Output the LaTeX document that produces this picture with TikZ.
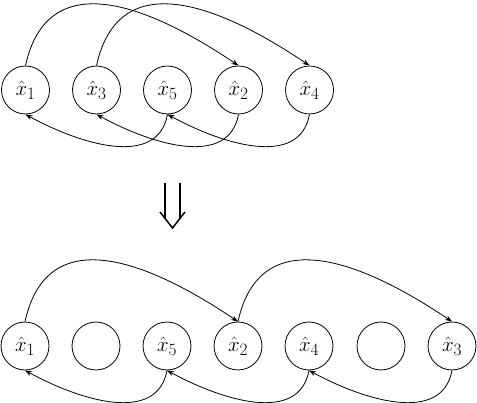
\documentclass[tikz,border=0pt]{standalone}
\usepackage{amsmath}
\usepackage{tikz}
\usetikzlibrary{arrows.meta}
\DeclareMathSizes{22}{22}{16}{12}
\tikzset{state/.style={draw, circle, line width=.8pt, minimum size=48pt, inner sep=0pt,
  font=\fontsize{22}{26}\selectfont}}
\tikzset{link/.style={line width=.8pt, -{Stealth[length=7pt,width=5pt]}}}

\begin{document}
\begin{tikzpicture}[x=1pt, y=-1pt]
\useasboundingbox (0,0) rectangle (477,403);

% first order
\node [state] (a1) at (25.5, 90) {$\hat{x}_1$};
\node [state] (a3) at (96.5, 90) {$\hat{x}_3$};
\node [state] (a5) at (167.5, 90) {$\hat{x}_5$};
\node [state] (a2) at (238.5, 90) {$\hat{x}_2$};
\node [state] (a4) at (309.5, 90) {$\hat{x}_4$};

\draw[link] (a1.north) .. controls +(22,-100) and +(-92,-62) .. (a2.north);
\draw[link] (a3.north) .. controls +(22,-100) and +(-92,-62) .. (a4.north);
\draw[link] (a5.south) .. controls +(-10,54) and +(55,30) .. (a1.south);
\draw[link] (a2.south) .. controls +(-10,54) and +(55,30) .. (a3.south);
\draw[link] (a4.south) .. controls +(-10,54) and +(55,30) .. (a5.south);

% double arrow
\draw[line width=1.5pt] (165, 183) -- (165, 218.5);
\draw[line width=1.5pt] (180, 183) -- (180, 218.5);
\draw[line width=1.5pt] (160, 212) -- (172.5, 228) -- (185, 212);

% second order
\node [state] (b1) at (25, 346) {$\hat{x}_1$};
\node [state] (e1) at (96, 346) {};
\node [state] (b5) at (167, 346) {$\hat{x}_5$};
\node [state] (b2) at (238, 346) {$\hat{x}_2$};
\node [state] (b4) at (309, 346) {$\hat{x}_4$};
\node [state] (e2) at (381, 346) {};
\node [state] (b3) at (452, 346) {$\hat{x}_3$};

\draw[link] (b1.north) .. controls +(22,-100) and +(-92,-62) .. (b2.north);
\draw[link] (b2.north) .. controls +(22,-100) and +(-92,-62) .. (b3.north);
\draw[link] (b5.south) .. controls +(-10,54) and +(55,30) .. (b1.south);
\draw[link] (b4.south) .. controls +(-10,54) and +(55,30) .. (b5.south);
\draw[link] (b3.south) .. controls +(-10,54) and +(55,30) .. (b4.south);

\end{tikzpicture}
\end{document}
